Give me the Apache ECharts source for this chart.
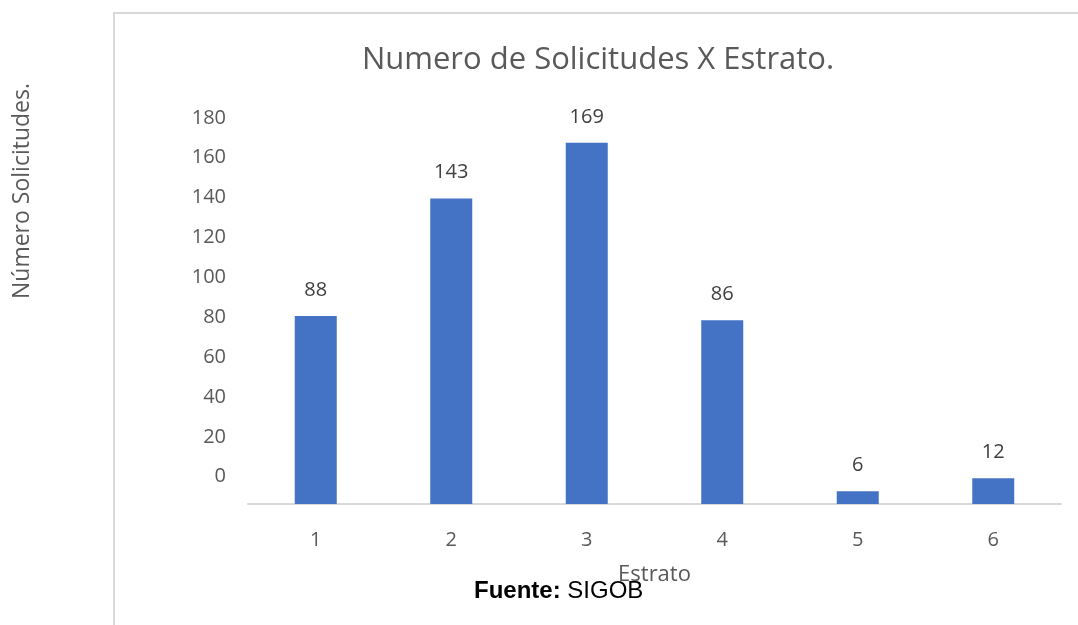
<!DOCTYPE html>
<html>
<head>
<meta charset="utf-8">
<script src="https://cdn.jsdelivr.net/npm/echarts@6/dist/echarts.min.js"></script>
<style>
  html, body { margin: 0; padding: 0; background: #ffffff; }
  #chart { width: 1078px; height: 625px; }
</style>
</head>
<body>
<div id="chart"></div>
<script>
// categories (estratos) and request counts
const estratos = ['1', '2', '3', '4', '5', '6']
const solicitudes = [88, 143, 169, 86, 6, 12]
// tick labels as printed on the (shifted) left axis
const yTicks = [0, 20, 40, 60, 80, 100, 120, 140, 160, 180]

const font = '"Open Sans", "Noto Sans", sans-serif'
const arial = '"Liberation Sans", Arial, sans-serif'
const chart = echarts.init(document.getElementById('chart'))

chart.setOption({
  backgroundColor: '#ffffff',
  animation: false,
  textStyle: { fontFamily: font },
  title: [
    {
      text: 'Numero de Solicitudes X Estrato.',
      left: 593,
      textAlign: 'center',
      top: 40,
      textStyle: { color: '#595959', fontSize: 31, fontWeight: 'normal', fontFamily: font }
    },
    {
      text: '{b|Fuente:} SIGOB',
      left: 469,
      top: 574,
      textStyle: {
        color: '#000000',
        fontSize: 24,
        fontWeight: 'normal',
        fontFamily: arial,
        rich: {
          b: { fontWeight: 'bold', fontSize: 24, color: '#000000', fontFamily: arial }
        }
      }
    }
  ],
  graphic: [
    {
      type: 'rect',
      shape: { x: 114, y: 13, width: 1200, height: 800 },
      style: { fill: 'none', stroke: '#d9d9d9', lineWidth: 2 },
      silent: true
    },
    {
      type: 'text',
      x: 22,
      y: 191,
      rotation: Math.PI / 2,
      style: {
        text: 'Número Solicitudes.',
        fill: '#595959',
        font: '23px ' + font,
        textAlign: 'center',
        textVerticalAlign: 'middle'
      }
    }
  ],
  grid: {
    left: 248,
    right: 17,
    top: 98,
    bottom: 121
  },
  xAxis: {
    type: 'category',
    data: estratos,
    name: 'Estrato',
    nameLocation: 'middle',
    nameGap: 60,
    nameTextStyle: { color: '#595959', fontSize: 22 },
    axisLine: { lineStyle: { color: '#d9d9d9', width: 2 } },
    axisTick: { show: false },
    axisLabel: { color: '#595959', fontSize: 20, margin: 26 }
  },
  yAxis: [
    {
      type: 'value',
      min: 0,
      max: 190,
      show: false,
      splitLine: { show: false }
    },
    {
      type: 'value',
      min: -13.7,
      max: 190,
      position: 'left',
      axisLine: { show: false },
      axisTick: { show: false },
      splitLine: { show: false },
      axisLabel: {
        color: '#595959',
        fontSize: 20,
        margin: 22,
        customValues: yTicks
      }
    }
  ],
  series: [
    {
      name: 'Solicitudes',
      type: 'bar',
      yAxisIndex: 0,
      barWidth: 42,
      itemStyle: { color: '#4472c4' },
      label: {
        show: true,
        position: 'top',
        distance: 16,
        color: '#404040',
        fontSize: 20
      },
      data: solicitudes
    }
  ]
})
</script>
</body>
</html>
